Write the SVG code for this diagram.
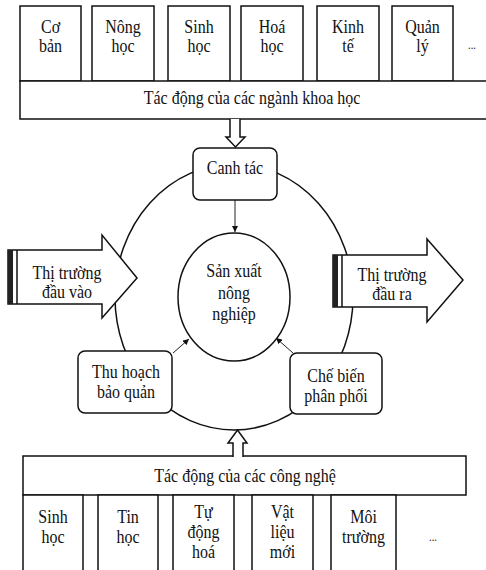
<svg xmlns="http://www.w3.org/2000/svg" width="486" height="570" viewBox="0 0 486 570">
<style>
.b{fill:#fff;stroke:#111;stroke-width:1.5}
.l{fill:none;stroke:#111;stroke-width:1.5}
.t{font-family:"Liberation Serif","Times New Roman",serif;font-size:18.5px;fill:#111;text-anchor:middle;transform-box:fill-box;transform-origin:center;transform:scaleX(0.865)}
.s{font-size:12px}
.c{stroke:#222;stroke-width:1;fill:none}
</style>
<defs>
<marker id="ah" viewBox="0 0 6 6" refX="6" refY="3" markerWidth="6" markerHeight="6" orient="auto" markerUnits="userSpaceOnUse">
<path d="M0,0 L6,3 L0,6 z" fill="#111"/>
</marker>
</defs>
<rect width="486" height="570" fill="#fff"/>

<g id="outer-cycle">
<ellipse class="l" cx="234" cy="297" rx="119" ry="133"/>
</g>

<g id="top-fields">
<g id="f-coban"><rect class="b" x="20" y="6" width="61" height="75"/><text class="t" x="50.5" y="33">Cơ</text><text class="t" x="50.5" y="52">bản</text></g>
<g id="f-nonghoc"><rect class="b" x="92" y="6" width="62" height="75"/><text class="t" x="123" y="33">Nông</text><text class="t" x="123" y="52">học</text></g>
<g id="f-sinhhoc"><rect class="b" x="168" y="6" width="62" height="75"/><text class="t" x="199" y="33">Sinh</text><text class="t" x="199" y="52">học</text></g>
<g id="f-hoahoc"><rect class="b" x="241" y="6" width="62" height="75"/><text class="t" x="272" y="33">Hoá</text><text class="t" x="272" y="52">học</text></g>
<g id="f-kinhte"><rect class="b" x="317" y="6" width="62" height="75"/><text class="t" x="348" y="33">Kinh</text><text class="t" x="348" y="52">tế</text></g>
<g id="f-quanly"><rect class="b" x="392" y="6" width="61" height="75"/><text class="t" x="422.5" y="33">Quản</text><text class="t" x="422.5" y="52">lý</text></g>
<g id="f-more"><text class="t s" x="472" y="49">...</text></g>
</g>
<g id="science-bar"><rect class="b" x="20" y="81" width="475" height="38"/><text class="t" x="252" y="104">Tác động của  các ngành khoa học</text></g>

<g id="tech-bar"><rect class="b" x="23" y="456" width="443" height="39"/><text class="t" x="245" y="482">Tác động của các công nghệ</text></g>
<g id="bottom-tech">
<g id="t-sinhhoc"><rect class="b" x="23" y="495" width="60" height="80"/><text class="t" x="53" y="523">Sinh</text><text class="t" x="53" y="543">học</text></g>
<g id="t-tinhoc"><rect class="b" x="98" y="495" width="60" height="80"/><text class="t" x="128" y="523">Tin</text><text class="t" x="128" y="543">học</text></g>
<g id="t-tudonghoa"><rect class="b" x="173" y="495" width="61" height="80"/><text class="t" x="203.5" y="518">Tự</text><text class="t" x="203.5" y="538">động</text><text class="t" x="203.5" y="558">hoá</text></g>
<g id="t-vatlieu"><rect class="b" x="252" y="495" width="61" height="80"/><text class="t" x="282.5" y="518">Vật</text><text class="t" x="282.5" y="538">liệu</text><text class="t" x="282.5" y="558">mới</text></g>
<g id="t-moitruong"><rect class="b" x="331" y="495" width="65" height="80"/><text class="t" x="363.5" y="523">Môi</text><text class="t" x="363.5" y="543">trường</text></g>
<g id="t-more"><text class="t s" x="433" y="541">...</text></g>
</g>

<g id="connectors">
<path class="b" d="M230,119 V137 H226 L235.5,147 L245,137 H240 V119"/>
<path class="b" d="M233,457 V443 H228 L237.5,430 L247,443 H243 V457"/>
<line class="c" x1="235" y1="200" x2="235" y2="232" marker-end="url(#ah)"/>
<line class="c" x1="173" y1="353" x2="189" y2="339" marker-end="url(#ah)"/>
<line class="c" x1="293" y1="353" x2="276" y2="338" marker-end="url(#ah)"/>
</g>

<g id="canhtac"><rect class="b" x="193" y="148" width="84" height="52" rx="7"/><text class="t" x="235" y="174">Canh tác</text></g>

<g id="sanxuat"><ellipse class="b" cx="234" cy="297" rx="56" ry="64"/><text class="t" x="234" y="277">Sản xuất</text><text class="t" x="234" y="299">nông</text><text class="t" x="234" y="320">nghiệp</text></g>

<g id="thuhoach"><rect class="b" x="78" y="351" width="94" height="62" rx="7"/><text class="t" x="126" y="378">Thu hoạch</text><text class="t" x="126" y="398">bảo quản</text></g>

<g id="chebien"><rect class="b" x="290" y="353" width="92" height="61" rx="7"/><text class="t" x="336" y="382">Chế biến</text><text class="t" x="336" y="402">phân phối</text></g>

<g id="thitruong-vao">
<path class="b" d="M8,250 H102 V235 L137,278 L102,318 V304 H8 Z"/>
<rect x="8" y="250" width="5" height="54" fill="#222"/>
<line class="l" x1="17" y1="250" x2="17" y2="304"/>
<text class="t" x="67" y="279">Thị trường</text><text class="t" x="67" y="298">đầu vào</text>
</g>

<g id="thitruong-ra">
<path class="b" d="M333,255 H427 V239 L463,280 L427,322 V307 H333 Z"/>
<rect x="333" y="255" width="5" height="52" fill="#222"/>
<line class="l" x1="342" y1="255" x2="342" y2="307"/>
<text class="t" x="392" y="281">Thị trường</text><text class="t" x="392" y="300">đầu ra</text>
</g>
</svg>
